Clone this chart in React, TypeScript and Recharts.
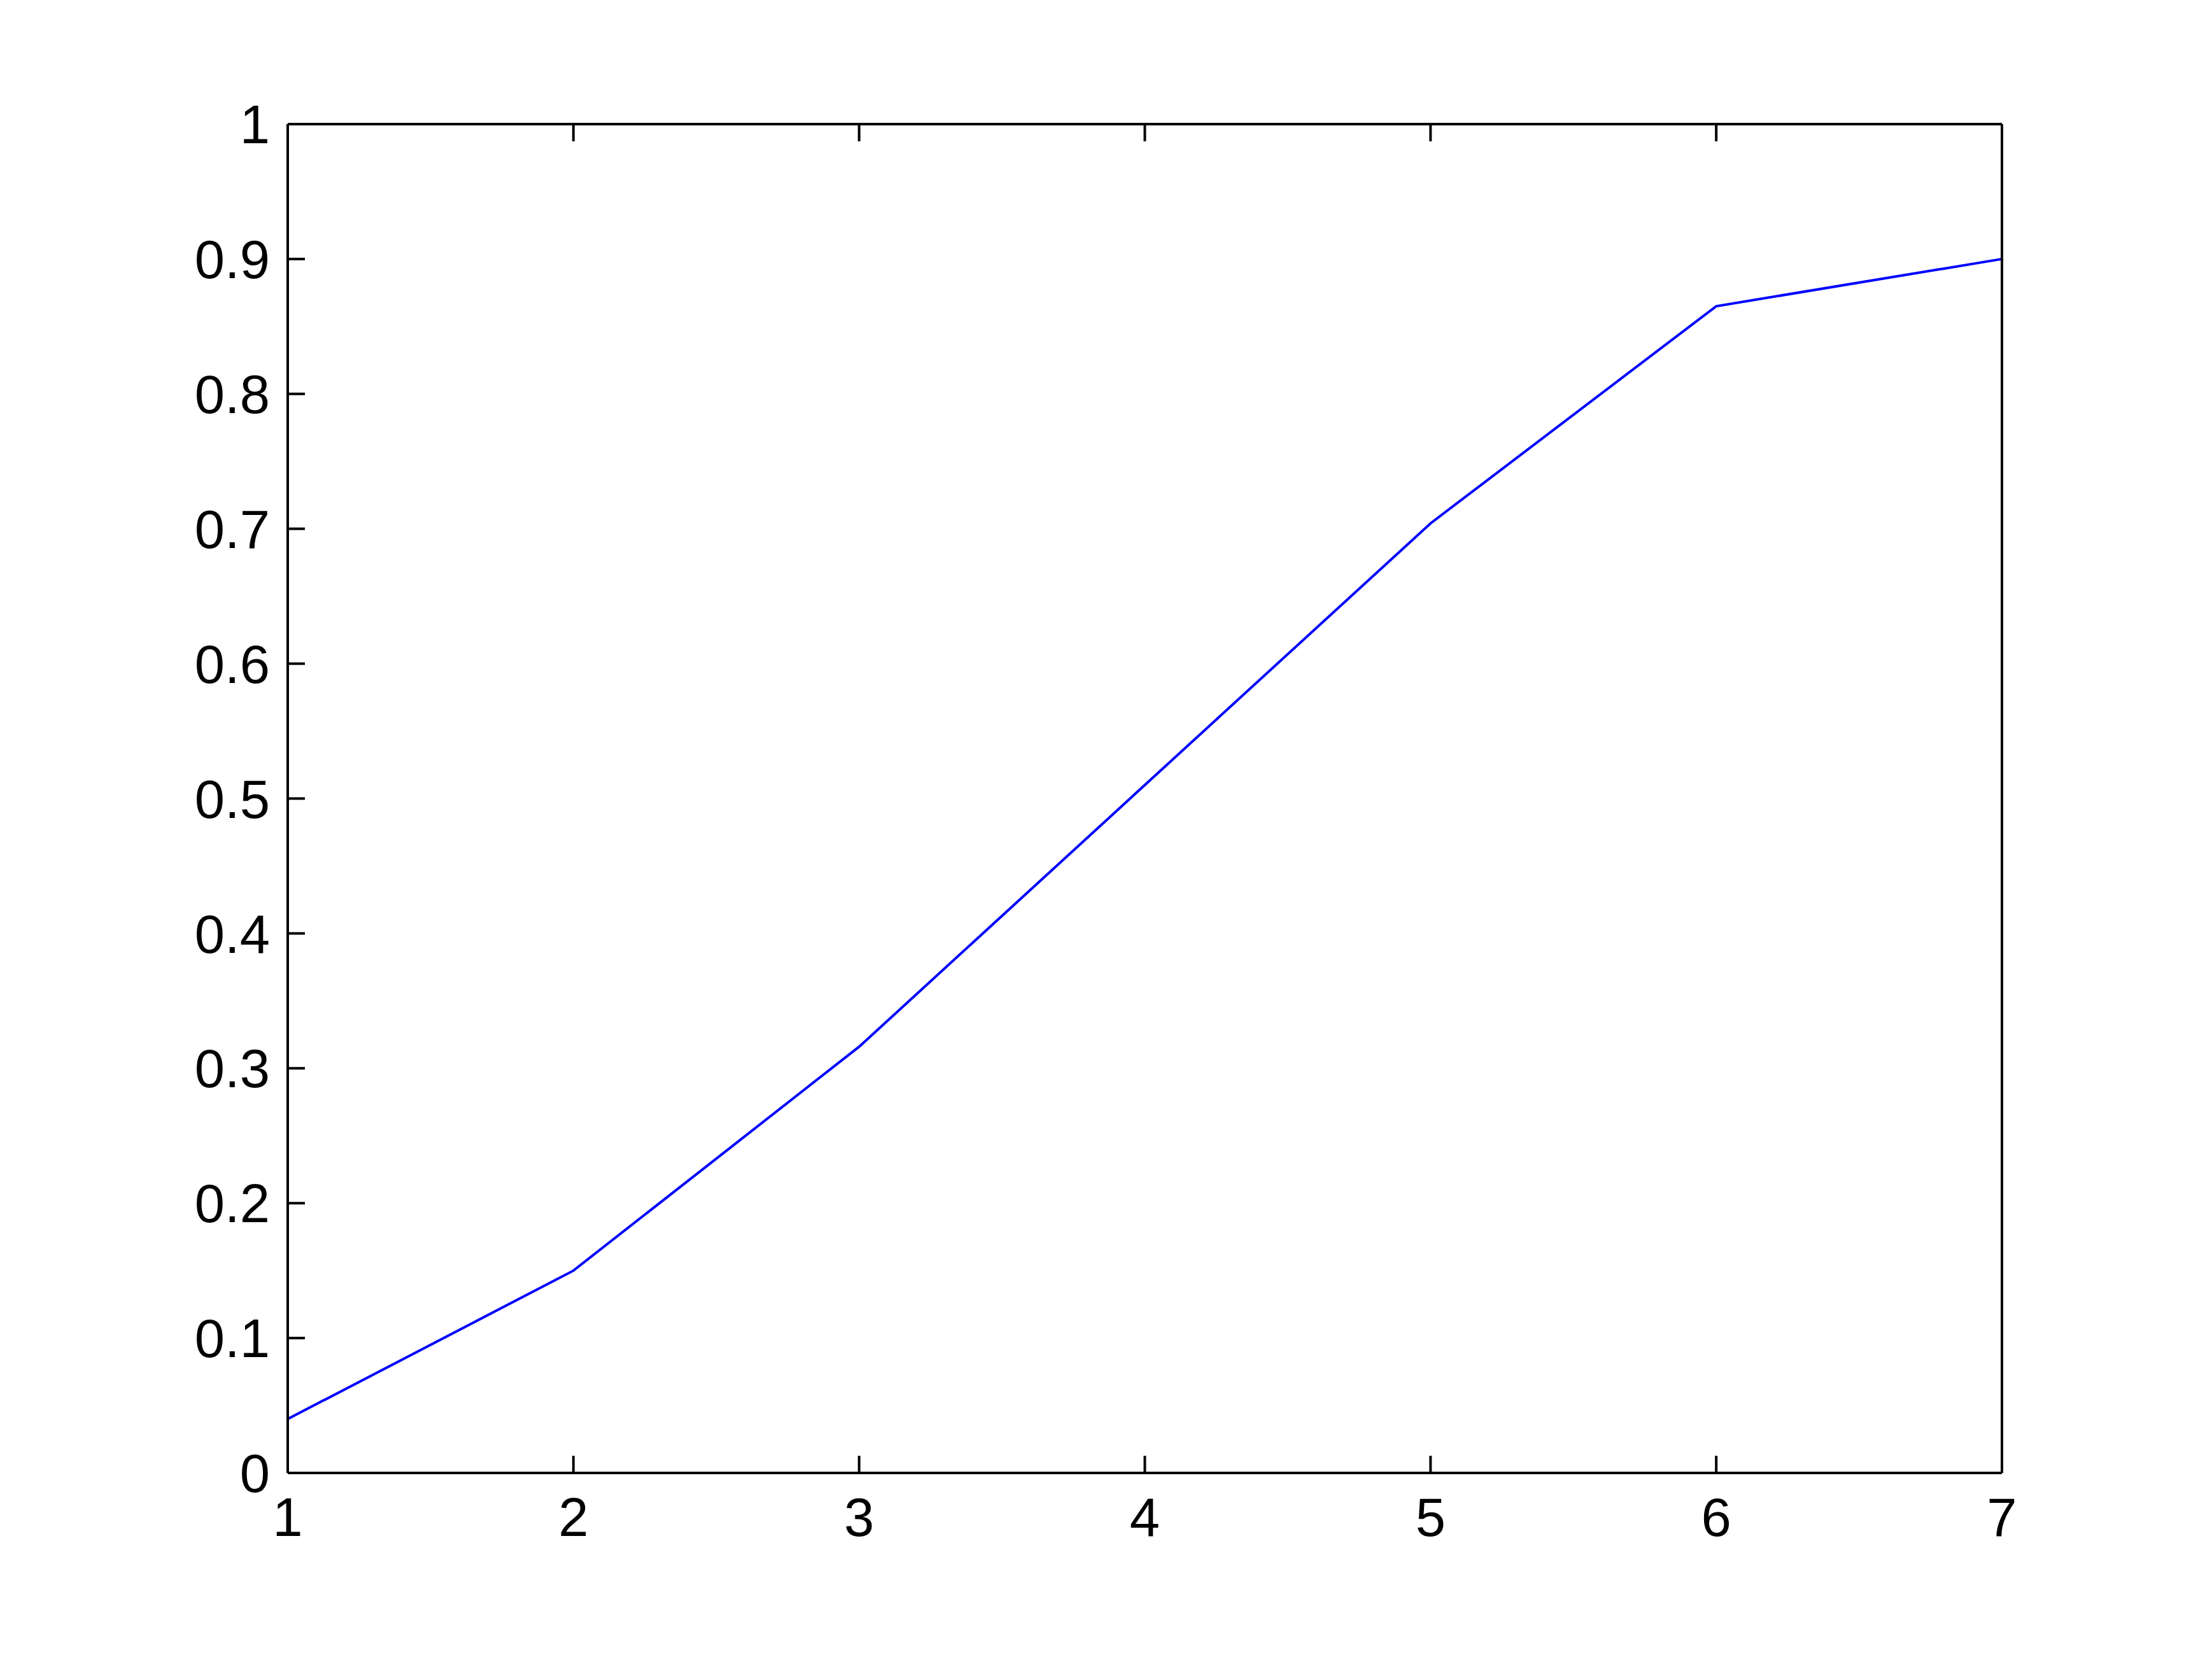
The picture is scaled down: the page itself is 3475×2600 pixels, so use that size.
import { Line, LineChart, XAxis, YAxis } from "recharts";

const xValues = [1, 2, 3, 4, 5, 6, 7];
const yValues = [0.04, 0.15, 0.316, 0.51, 0.704, 0.865, 0.9];
const xTicks = [1, 2, 3, 4, 5, 6, 7];
const yTicks = [0, 0.1, 0.2, 0.3, 0.4, 0.5, 0.6, 0.7, 0.8, 0.9, 1];

const data = xValues.map((x, i) => ({ x, y: yValues[i] }));

const FONT = "'Liberation Sans', Arial, sans-serif";
const frame = { stroke: "#000", strokeWidth: 4 };
const TICK = 27;

// matlab style: ticks point into the box
function BottomTick({ x, y, payload }: any) {
  return (
    <g>
      <line x1={x} y1={y} x2={x} y2={y - TICK} stroke="#000" strokeWidth={4} />
      <text x={x} y={y + 39} dy="0.71em" textAnchor="middle" fontSize={85} fontFamily={FONT} fill="#000">
        {payload.value}
      </text>
    </g>
  );
}

function TopTick({ x, y }: any) {
  return <line x1={x} y1={y} x2={x} y2={y + TICK} stroke="#000" strokeWidth={4} />;
}

function LeftTick({ x, y, payload }: any) {
  return (
    <g>
      <line x1={x} y1={y} x2={x + TICK} y2={y} stroke="#000" strokeWidth={4} />
      <text x={x - 28} y={y} dy="0.355em" textAnchor="end" fontSize={85} fontFamily={FONT} fill="#000">
        {String(payload.value)}
      </text>
    </g>
  );
}

function RightTick({ x, y }: any) {
  return <line x1={x} y1={y} x2={x - TICK} y2={y} stroke="#000" strokeWidth={4} />;
}

export default function App() {
  return (
    <div style={{ position: "absolute", left: 0, top: 0, background: "#fff" }}>
      <LineChart
        width={3475}
        height={2600}
        data={data}
        margin={{ top: 185, right: 320, bottom: 186, left: 252 }}
      >
        <XAxis
          xAxisId="b"
          dataKey="x"
          type="number"
          domain={[1, 7]}
          ticks={xTicks}
          interval={0}
          height={100}
          axisLine={frame}
          tickLine={false}
          tickSize={0}
          tickMargin={0}
          tick={<BottomTick />}
        />
        <XAxis
          xAxisId="t"
          orientation="top"
          dataKey="x"
          type="number"
          domain={[1, 7]}
          ticks={xTicks}
          interval={0}
          height={10}
          axisLine={frame}
          tickLine={false}
          tickSize={0}
          tickMargin={0}
          tick={<TopTick />}
        />
        <YAxis
          yAxisId="l"
          type="number"
          domain={[0, 1]}
          ticks={yTicks}
          interval={0}
          width={200}
          axisLine={frame}
          tickLine={false}
          tickSize={0}
          tickMargin={0}
          tick={<LeftTick />}
        />
        <YAxis
          yAxisId="r"
          orientation="right"
          type="number"
          domain={[0, 1]}
          ticks={yTicks}
          interval={0}
          width={10}
          axisLine={frame}
          tickLine={false}
          tickSize={0}
          tickMargin={0}
          tick={<RightTick />}
        />
        <Line
          xAxisId="b"
          yAxisId="l"
          type="linear"
          dataKey="y"
          stroke="#0000ff"
          strokeWidth={4}
          dot={false}
          isAnimationActive={false}
        />
      </LineChart>
    </div>
  );
}
